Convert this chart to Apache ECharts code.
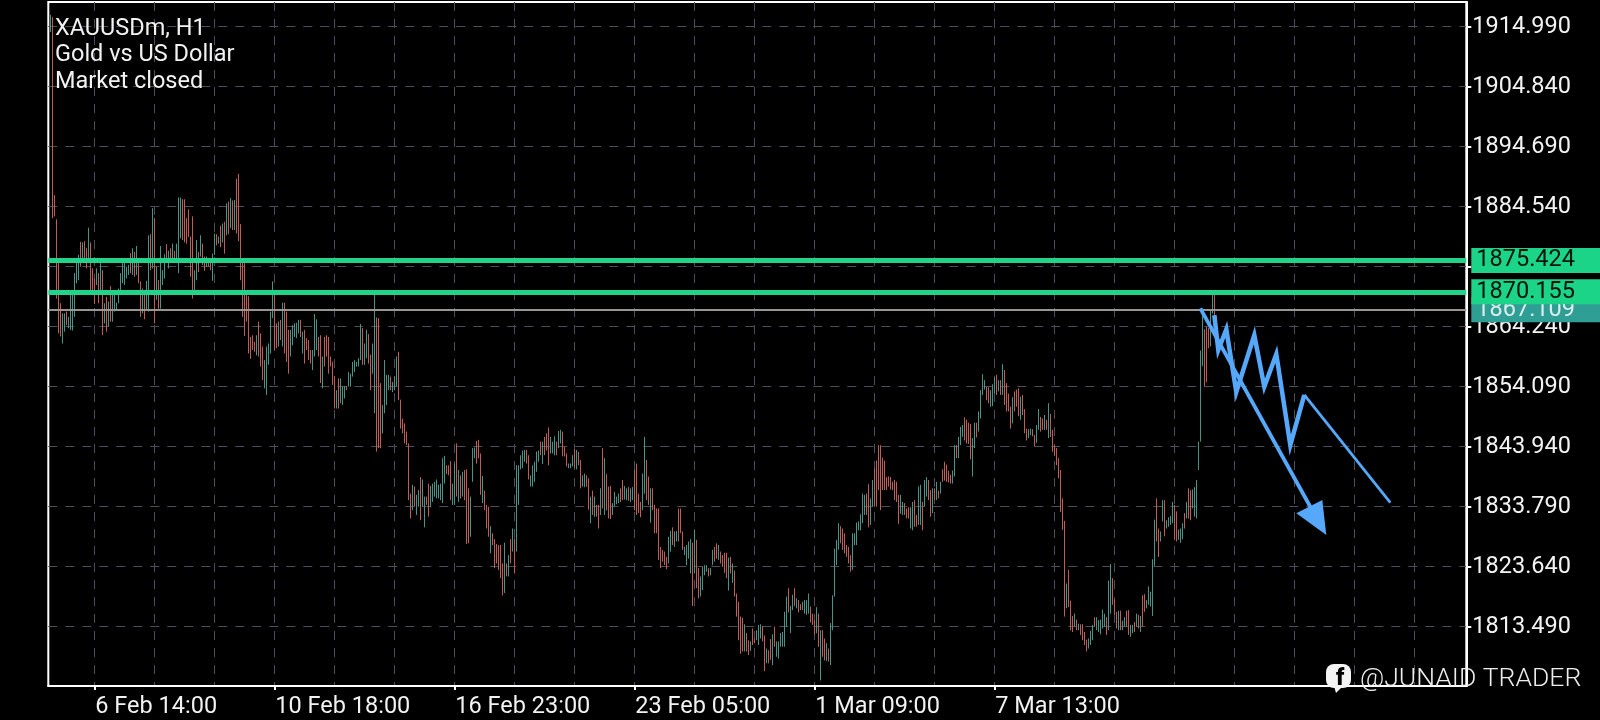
<!DOCTYPE html>
<html>
<head>
<meta charset="utf-8">
<style>html,body{margin:0;padding:0;background:#000}#c{width:1600px;height:720px}</style>
<script src="https://cdn.jsdelivr.net/npm/echarts@6/dist/echarts.min.js"></script>
</head>
<body>
<div id="c"></div>
<script>
// Each bar: [high, low, bullish(1)/bearish(0)]
const barsFeb6 = [[1917,1914.1,1],[1916.6,1882.6,0],[1886.5,1882.9,0],[1882.4,1869,0],[1875,1863.1,0],[1868.2,1862.6,0],[1866.5,1861.4,1],[1866.5,1863.4,1],[1866.8,1864.5,0],[1865.9,1864,1],[1869.9,1863.7,1],[1869.9,1863.6,1],[1873.3,1865.9,1],[1875.8,1871.6,1],[1876.4,1872.1,1],[1878.6,1874.4,0],[1878.5,1875.8,1],[1878.7,1875.5,0],[1877.5,1874.1,0],[1881,1875.5,1],[1878.5,1870.4,0],[1874.1,1870.4,0],[1872.4,1868.1,0],[1874.1,1871.3,1],[1873.3,1868.2,0],[1875,1870.2,1],[1873.8,1862.8,0],[1868.2,1864.8,1],[1869.3,1863.4,0],[1868.5,1864.2,1],[1871.1,1865.1,0],[1869.6,1865.1,1],[1869.6,1866.8,1],[1868.3,1867,1],[1870.7,1868.2,1],[1873.3,1870.2,1],[1875,1871.6,1],[1875.1,1871.3,1],[1874.4,1872.4,1],[1874.7,1873,1],[1876.7,1873.3,0],[1877.5,1873,1],[1876.9,1872.7,0],[1877.9,1873,1],[1875,1871.6,0],[1871.9,1865.9,0],[1870.7,1866.5,1],[1870.2,1865.5,0],[1872,1867,1],[1879.7,1866.8,1],[1879.9,1873.8,0],[1884.3,1874.1,1],[1882.6,1864.8,0],[1874.4,1868.8,1],[1872.1,1867.3,0],[1877.9,1867.3,1],[1873.8,1871.3,1],[1876.5,1872.4,1],[1878.2,1875,0],[1877.1,1874.1,1],[1877.5,1875.2,0],[1878.3,1875,1],[1877.1,1875.8,0],[1878.3,1875,1],[1886.1,1873.3,1],[1886.1,1879.2,1],[1885.8,1878.9,0],[1885.8,1878.5,0],[1882.6,1878.3,0],[1884.1,1879.4,0],[1879.5,1872.7,0],[1882.9,1869,0],[1873.8,1870.4,1],[1878.9,1872.1,1],[1876.9,1873.5,0],[1879.7,1876.1,1],[1878.3,1874.7,0],[1876.1,1873.7,0],[1876.1,1874.4,1],[1875.8,1874.4,0],[1875.2,1873.8,0],[1876.6,1872,1],[1880,1876.4,1],[1879.9,1878,0],[1879.5,1878.3,1],[1881.3,1877.7,0],[1881.7,1878.5,1],[1882,1876.6,0],[1885.1,1879.7,1],[1885.4,1879.9,0],[1886,1880.9,1],[1885.6,1880.6,0],[1885.7,1880.6,1],[1889.3,1880,0],[1890.1,1878.7,0],[1881.6,1872.1,0]];
const barsFeb10 = [[1875,1865.9,0],[1875,1862.7,0],[1869.6,1865.1,0],[1869.4,1859.7,0],[1862.5,1858.8,0],[1862.8,1860.3,0],[1861.7,1860,0],[1862.8,1859.4,1],[1865.1,1859.2,0],[1863.1,1857.5,0],[1860.9,1855.2,0],[1858.6,1853.8,1],[1860.9,1852.7,1],[1861.4,1857.8,1],[1866.8,1859.7,1],[1871.9,1865.7,1],[1869.9,1860.3,0],[1864.8,1860.6,0],[1865.1,1860.9,1],[1865.4,1862,0],[1868.3,1860.9,1],[1868.3,1859.7,0],[1866.8,1858.3,0],[1863.7,1856.3,0],[1863.7,1859.2,1],[1864.5,1861.1,1],[1864.8,1862.5,1],[1864.9,1862.3,1],[1865.4,1863.1,1],[1865.4,1862.5,0],[1863.4,1859.7,1],[1863.7,1858,0],[1862.3,1860.3,0],[1862,1858.6,0],[1860.3,1858,0],[1860.3,1856.9,1],[1866.4,1859.2,1],[1865.5,1860.3,1],[1862.5,1859.2,0],[1862.8,1854.7,0],[1859.2,1853.8,1],[1862.5,1857.5,0],[1862.8,1859.2,0],[1862.5,1856.3,0],[1859.2,1857.5,0],[1858.3,1854.4,0],[1855.8,1850.4,0],[1853.5,1850.4,1],[1855.5,1850.4,0],[1855.5,1851.3,1],[1854.1,1851,1],[1854.2,1852.1,1],[1854.2,1853.5,0],[1856.6,1854.1,1],[1856.3,1854.1,1],[1858.3,1855.8,1],[1858.6,1856.6,1],[1858.3,1857.5,1],[1858.9,1857.5,1],[1864.7,1858.6,1],[1864,1857.8,0],[1861.4,1857.8,1],[1863.7,1858.9,1],[1863,1858,0],[1859.5,1853.5,0],[1861.4,1856.3,1],[1869.9,1849.6,1],[1865.8,1843.1,0],[1865.7,1843.7,0],[1854.7,1843.7,0],[1851,1846.2,1],[1858.6,1849.6,1],[1856.1,1851,1],[1856.1,1853.5,1],[1855.8,1853.5,0],[1854.9,1853.2,1],[1855.8,1853.5,1],[1859.2,1854.1,1],[1860,1851.8,0],[1851.9,1847,0],[1848.7,1846.2,0],[1847.9,1844.5,0],[1846.5,1844.2,0],[1844.5,1834.9,0]];
const barsFeb16 = [[1836,1831.8,0],[1837.5,1833.2,1],[1837.2,1833.8,0],[1835.8,1832.4,1],[1836.6,1833.8,1],[1838.8,1831.5,0],[1838.4,1833.8,1],[1835.5,1830.3,1],[1835.5,1834.1,0],[1837.7,1832.1,0],[1837.3,1833.7,1],[1837.7,1834.6,1],[1838,1835.5,1],[1838.4,1835.2,1],[1837.5,1835.2,1],[1837.7,1834.9,1],[1842,1834.4,1],[1842.4,1837.7,1],[1840.8,1839.3,0],[1840.8,1839.1,0],[1841.5,1834.9,0],[1837.7,1834.1,1],[1841.1,1834.1,1],[1844.5,1835.5,0],[1840,1834.6,1],[1839.1,1835.2,0],[1839.7,1835.5,1],[1840,1834.9,0],[1840.1,1827.5,0],[1836.9,1827.6,0],[1835.5,1828.7,1],[1843.7,1838,1],[1843.8,1842,1],[1844.9,1841.1,0],[1845.1,1842,0],[1842.8,1835.8,0],[1839,1834.4,1],[1836.5,1833.2,0],[1834.1,1830.1,0],[1833.8,1828.7,0],[1830.5,1825.9,1],[1829.3,1827.3,0],[1828.3,1823.4,0],[1827.5,1824.2,0],[1827.3,1823.1,0],[1827.3,1821.7,0],[1824.2,1818.8,0],[1827.7,1819.2,1],[1824.2,1822,0],[1825.6,1822,1],[1828.3,1824.2,0],[1830.1,1826.2,1],[1828.4,1822.5,0],[1840.8,1826.2,1],[1840.8,1834.1,1],[1842.5,1840.1,1],[1843.3,1840.3,1],[1843.4,1841.4,1],[1843.4,1841.1,0],[1842.5,1838.4,0],[1839.1,1837.2,1],[1840.8,1837.2,1],[1841.4,1838,1],[1843.1,1839.7,1],[1843.3,1841.4,1],[1844.8,1842.5,0],[1844.8,1841,1],[1845.6,1842.5,0],[1846.2,1843.3,0],[1847.2,1840.8,0],[1845.6,1842.8,1],[1844.8,1842.8,1],[1845.7,1842.5,1],[1844.8,1842.5,0],[1846.6,1843.7,1],[1846.8,1844.5,1],[1846.5,1842.3,0],[1843.9,1842.3,0],[1842.8,1840.6,0],[1841.1,1840.3,1],[1841.1,1840.3,1],[1842.5,1840.6,1],[1843.5,1840.3,0],[1843.4,1840.1,1],[1843.1,1840.8,0],[1841.7,1836.9,0],[1839.1,1837.2,1],[1839.4,1837.1,1],[1839.1,1837.2,0],[1838.6,1833.3,0]];
const barsFeb23 = [[1835.5,1831,1],[1836.5,1832.4,0],[1835.5,1832.1,1],[1834.1,1832.1,0],[1834.1,1830.1,0],[1836.9,1832.4,1],[1843.7,1833.5,0],[1842,1832.4,1],[1839.3,1833.2,0],[1837.2,1831.8,0],[1837.3,1831.7,0],[1834.4,1832.4,1],[1836.3,1833.9,1],[1835.5,1834.2,1],[1836,1834.4,1],[1836.9,1834.6,0],[1838.3,1834.9,0],[1837.3,1835,1],[1836.9,1834.9,1],[1837.1,1834.8,0],[1836.9,1834.6,1],[1837.1,1834.9,1],[1840,1833.2,0],[1841.1,1832.4,0],[1836,1832.7,0],[1834.6,1832,0],[1839.4,1833.2,1],[1845.6,1836,1],[1841.7,1834.9,0],[1838.9,1834.1,0],[1836.9,1831.1,1],[1836.9,1833.2,0],[1834.1,1829.3,0],[1833.5,1829.3,0],[1833.5,1824.8,0],[1827,1823.4,0],[1826.5,1824.5,0],[1826.2,1823.9,0],[1825.3,1823.2,0],[1828.7,1824.2,1],[1829.7,1826.2,1],[1830.3,1827.3,0],[1829.6,1827,1],[1829.7,1827.9,1],[1833.5,1827.9,0],[1833.5,1829.3,0],[1829.6,1826.5,0],[1827,1825.6,1],[1827.3,1823.9,1],[1827.9,1825,1],[1828.3,1822.5,1],[1827.7,1817,0],[1829.8,1822.5,1],[1828.2,1820,0],[1823.4,1818.3,0],[1822,1818.6,1],[1823.6,1819.7,1],[1823.9,1822.2,1],[1823.9,1822.8,1],[1823.4,1822,0],[1823.4,1822.2,1],[1826.5,1823.9,1],[1827,1824.5,0],[1827.6,1825,0],[1827.3,1824.8,1],[1826.2,1824.2,0],[1825.6,1823.6,0],[1826,1822.6,0],[1826,1821.7,0],[1825.2,1819.6,1],[1825.3,1822.5,0],[1824.2,1820.9,1],[1823,1818.6,0],[1819.1,1815.2,0],[1817.7,1811.2,0],[1815.2,1808.9,0],[1815,1809.3,0],[1813.9,1809.3,1],[1812.4,1809.3,0],[1811.2,1808.7,0],[1811,1809.4,1],[1813.2,1810.4,0],[1811.5,1810.7,0],[1812.9,1811.2,1],[1813.8,1810.4,1],[1813.9,1811.5,1],[1813.6,1811,0],[1812,1806,0],[1809.8,1807.3,1]];
const barsMar1 = [[1809.5,1807.3,0],[1811.4,1807.9,0],[1812.2,1807,1],[1813.5,1810.1,0],[1811,1808.4,1],[1811,1808.1,1],[1812.4,1810.1,1],[1812.6,1810.1,1],[1816,1810.1,1],[1818.6,1813.5,1],[1820,1815.9,0],[1817,1812.4,1],[1818.9,1816.3,1],[1820,1817,0],[1818.3,1816.6,1],[1818,1815.9,0],[1817.3,1816.3,0],[1817.7,1816.3,1],[1818,1815.7,1],[1818,1815.5,1],[1819.1,1815.7,1],[1816.9,1814.2,0],[1815.7,1813.8,0],[1814.6,1812.1,0],[1816.8,1812.4,1],[1815.7,1810.1,0],[1812.9,1804.4,1],[1812.9,1808.4,0],[1811.5,1807.8,0],[1810.7,1807.7,1],[1809.8,1807.6,0],[1814.1,1807,1],[1818.8,1812.9,1],[1826.7,1818.6,1],[1828.2,1823.9,1],[1831,1826.5,1],[1830.5,1827.6,0],[1830.1,1826.5,0],[1829.3,1825.9,0],[1827.3,1825.3,0],[1827,1824.2,0],[1825.6,1822.8,0],[1829.3,1823.1,1],[1829.3,1827.3,1],[1831.1,1827.3,1],[1831.3,1829.8,1],[1832.5,1829.8,1],[1836,1831,1],[1835.8,1832.4,1],[1836,1832.4,0],[1837.6,1830.3,0],[1835.2,1830.7,1],[1838.3,1833.8,1],[1840.3,1833.8,0],[1841.6,1833.8,0],[1844.2,1836.6,0],[1844.2,1833.2,0],[1842.1,1836.6,0],[1841.6,1836.6,0],[1838.8,1836.6,0],[1838.9,1837.2,0],[1838.8,1836.7,0],[1838,1836.6,0],[1838.3,1834.9,0],[1838,1834.6,0],[1835.8,1830.9,0],[1835.8,1832.6,1],[1834.6,1832.4,1],[1834.4,1832.4,0],[1833.5,1831.8,0],[1833.7,1831.8,0],[1833.7,1830.1,1],[1834.6,1829.8,1],[1834.9,1830.4,0],[1832.4,1830.4,0],[1837.2,1830.7,1],[1837.5,1830.7,1],[1834.6,1829.8,0],[1838.3,1833.8,1],[1838.8,1835.5,1],[1838.3,1834.9,0],[1836.6,1832.1,0],[1836.9,1832.7,1],[1836.9,1834.9,0],[1838,1834.9,1],[1836.5,1835.2,0],[1838,1836,1],[1840.1,1838,0],[1841.4,1838.2,0],[1840.9,1838,0]];
const barsMar7 = [[1839.9,1837.9,0],[1839.2,1837.7,0],[1839.9,1837.7,1],[1844.2,1838.9,1],[1844.2,1842,0],[1845.6,1842,1],[1847.3,1844.2,1],[1847.6,1845.6,1],[1848.9,1845,0],[1848.5,1844.5,0],[1848,1844.4,0],[1847.8,1841.8,0],[1845.4,1838.9,1],[1848,1843.7,1],[1848,1845.5,0],[1849.9,1846.5,1],[1853.5,1848.7,1],[1856.2,1852.7,1],[1855.2,1853.6,1],[1854.1,1851.8,0],[1854,1851.3,0],[1853.5,1850.7,1],[1854.5,1850.8,1],[1855.7,1853,1],[1856.1,1852.7,0],[1855.2,1853.3,1],[1855.2,1852.7,0],[1857.9,1852.7,1],[1856.9,1851,0],[1854.7,1849.9,0],[1852.9,1849.9,0],[1850.7,1847,0],[1852.3,1847.9,1],[1853.3,1849.9,0],[1853.6,1850.7,0],[1853.8,1849.1,0],[1852.4,1848.5,1],[1852.7,1849.3,0],[1850.3,1846.2,0],[1847,1845,0],[1846.9,1845.4,1],[1847,1845.9,1],[1846.9,1845.7,0],[1845.9,1844,0],[1847.6,1844.6,1],[1850.3,1846.8,1],[1849,1846.5,0],[1848.7,1846.8,0],[1849.3,1846.8,1],[1848.5,1846.8,0],[1851.3,1845.4,1],[1849.5,1845.6,0],[1846.8,1843.1,0],[1844.2,1842.4,0],[1843.7,1840.8,0],[1842,1838.6,0],[1840,1832.9,0]];
const barsMar9 = [[1835.2,1829.9,0],[1831.4,1815.2,0],[1820.8,1816.6,1],[1823.1,1816.8,0],[1817.9,1812.9,0],[1815.3,1812.6,0],[1815.7,1813.5,1],[1814.7,1812.9,0],[1814,1812.9,1],[1813.9,1812.1,0],[1813.9,1811.2,0],[1812.6,1810.4,0],[1811.3,1809.3,0],[1811.5,1809.8,1],[1812.8,1810.4,1],[1813.8,1811.2,1],[1815.1,1813.5,0],[1815.1,1812.9,1],[1814.6,1812.6,1],[1814.7,1812.2,1],[1816.4,1813.2,1],[1815.7,1813.5,1],[1815.1,1812.1,0],[1821.3,1812.9,1],[1824.1,1815.7,1],[1821.7,1817.2,0],[1818.1,1815.5,0],[1816,1813.2,0],[1816.2,1812.9,1],[1816.2,1812.9,0],[1814.5,1812.9,1],[1815.1,1813.5,1],[1816.2,1813.5,0],[1816.3,1812.1,0],[1813.8,1811.8,1],[1813.8,1812.4,1],[1814.3,1812.6,0],[1815.7,1813.5,1],[1815.5,1813.2,0],[1815.3,1812.6,1],[1818.8,1813.5,0],[1819,1816,0],[1818,1816.6,1],[1820.3,1817.2,1],[1819.4,1816.9,1],[1824.9,1815.3,1],[1831.6,1823.8,1],[1835.2,1827.9,0],[1830.1,1825.3,0],[1829.6,1827.9,1],[1834.9,1831.3,1],[1834.9,1828.8,0],[1831.5,1830.1,1],[1832,1830.4,1],[1832.2,1830.7,1],[1834.6,1831,1],[1834.1,1828.2,0],[1833,1827.9,0],[1829.9,1828.2,1],[1830.1,1827.7,1],[1831,1828.3,1],[1832.7,1830.1,0],[1834.6,1831.8,1],[1836.9,1831.8,0],[1836.6,1831.5,0],[1836.7,1833.5,1],[1837.1,1832.1,1],[1838.3,1831.8,1],[1844.8,1840,1],[1860.2,1844.8,1],[1867.3,1857.6,1],[1863.8,1854.1,0],[1864.2,1854.9,0],[1864,1860.6,0],[1867,1860.9,1],[1869.8,1866.5,1],[1869.9,1865.1,0],[1866,1862,0]];

const priceTicks = [1813.49,1823.64,1833.79,1843.94,1854.09,1864.24,1874.39,1884.54,1894.69,1904.84,1914.99];
const timeLabels = ['6 Feb 14:00','10 Feb 18:00','16 Feb 23:00','23 Feb 05:00','1 Mar 09:00','7 Mar 13:00'];
const levelPrices = [1875.424,1870.155];
const bidPrice = 1867.109;
const headerLines = ['XAUUSDm, H1','Gold vs US Dollar','Market closed'];
const watermark = '@JUNAID TRADER';
// Hand-drawn arrow, as [bar slot, price]
const arrowShaft = [[576,1867.35],[631,1833.79]];
const arrowHead = [[624,1832.67],[637,1834.92],[639,1829.0]];
const zigzag = [[583,1866.2],[585,1860.3],[589,1863.8],[594,1853.2],[603,1862.8],[608,1854.09],[614,1859.6],[621,1844.2],[628,1852.7]];
const zigzagTail = [[628,1852.7],[671,1834.5]];

const SLOTS = 710, FIRST_TICK = 23, GRID_EVERY = 30, LABEL_EVERY = 90;
const bars = [].concat(barsFeb6,barsFeb10,barsFeb16,barsFeb23,barsMar1,barsMar7,barsMar9);
const isLabelled = i => (i-FIRST_TICK)%LABEL_EVERY===0 && !!timeLabels[(i-FIRST_TICK)/LABEL_EVERY];
const categories = Array.from({length:SLOTS},(_,i)=>isLabelled(i)?timeLabels[(i-FIRST_TICK)/LABEL_EVERY]:'s'+i);
const candle = bars.map(([h,l,u],i)=>{
  const m=(h+l)/2, d=u?0.01:-0.01;
  return [i+1,m-d,m+d,l,h];
});
const FONT='Roboto, sans-serif', BLUE='#55a8fa', WHITE='#f2f2f2';
const textItems = headerLines.map((t,i)=>({type:'text',left:55,top:17+26.5*i,z:50,
  style:{text:t,fill:WHITE,font:'400 23.5px '+FONT}}));
const tagLabel = (value,fg,bg)=>({color:fg,backgroundColor:bg,formatter:()=>value.toFixed(3)});

const chart = echarts.init(document.getElementById('c'),null,{renderer:'canvas'});
chart.setOption({
  animation:false,
  backgroundColor:'#000',
  grid:{left:48.3,top:2,width:1418,height:684,show:true,borderColor:'#fff',borderWidth:2,backgroundColor:'#000'},
  xAxis:{type:'category',data:categories,boundaryGap:false,
    axisLine:{show:true,lineStyle:{color:'#fff',width:2}},
    axisTick:{show:true,length:4,lineStyle:{color:'#fff',width:2},interval:isLabelled},
    axisLabel:{color:WHITE,fontFamily:FONT,fontSize:23.5,margin:9,align:'left',padding:[0,0,0,1],hideOverlap:false,interval:isLabelled},
    splitLine:{show:true,interval:i=>(i-FIRST_TICK)%GRID_EVERY===0,lineStyle:{color:'#4c4d58',type:[9,8],width:1}}},
  yAxis:{type:'value',position:'right',min:1803.46,max:1919.17,scale:true,
    axisLine:{show:true,lineStyle:{color:'#fff',width:2}},
    axisTick:{show:true,length:5,lineStyle:{color:'#fff',width:2},customValues:priceTicks},
    axisLabel:{color:WHITE,fontFamily:FONT,fontSize:23.5,margin:6,padding:[9,0,0,0],customValues:priceTicks,formatter:v=>v.toFixed(3),showMinLabel:true,showMaxLabel:true},
    splitLine:{show:true,lineStyle:{color:'#4c4d58',type:[9,8],width:1}}},
  series:[
    {type:'candlestick',data:candle,large:false,barWidth:0.1,clip:true,z:3,
      encode:{x:0,y:[1,2,3,4]},
      itemStyle:{color:'#4b9387',color0:'#bd5f58',borderColor:'#4b9387',borderColor0:'#bd5f58',borderWidth:1},
      markLine:{silent:true,symbol:'none',animation:false,z:6,
        data:[
          {yAxis:bidPrice,lineStyle:{color:'#9a9590',width:2,type:'solid'},label:tagLabel(bidPrice,'#dcecea','#2f9f95')},
          {yAxis:levelPrices[1],lineStyle:{color:'#22d389',width:5,type:'solid'},label:tagLabel(levelPrices[1],'#02150d','#1bd488')},
          {yAxis:levelPrices[0],lineStyle:{color:'#22d389',width:5,type:'solid'},label:tagLabel(levelPrices[0],'#02150d','#1bd488')}
        ],
        label:{show:true,position:'end',distance:5,fontFamily:FONT,fontSize:23.5,lineHeight:18,padding:[7,60,0,5]}
      }},
    {type:'line',data:arrowShaft,showSymbol:false,symbol:'none',z:8,clip:false,lineStyle:{color:BLUE,width:3.8}},
    {type:'line',data:zigzag,showSymbol:false,symbol:'none',z:8,clip:false,lineStyle:{color:BLUE,width:4.5,join:'miter'}},
    {type:'line',data:zigzagTail,showSymbol:false,symbol:'none',z:8,clip:false,lineStyle:{color:BLUE,width:2.8}},
    {type:'custom',z:8,data:arrowHead,clip:false,
      renderItem:(params,api)=>{
        if(params.dataIndex!==0) return null;
        return {type:'polygon',shape:{points:arrowHead.map(p=>api.coord(p))},style:{fill:BLUE}};
      }}
  ],
  graphic:[
    ...textItems,
    {type:'rect',shape:{x:1326,y:664,width:25,height:24,r:8},style:{fill:'#f4f4f4'},z:50},
    {type:'polygon',shape:{points:[[1334,686],[1343,686],[1336,693]]},style:{fill:'#f4f4f4'},z:50},
    {type:'text',left:1336,top:668,z:51,style:{text:'f',fill:'#000',font:'900 23px '+FONT}},
    {type:'text',left:1360,top:666,z:50,style:{text:watermark,fill:'#ededed',font:'300 26.5px '+FONT}}
  ]
});
</script>
</body>
</html>
